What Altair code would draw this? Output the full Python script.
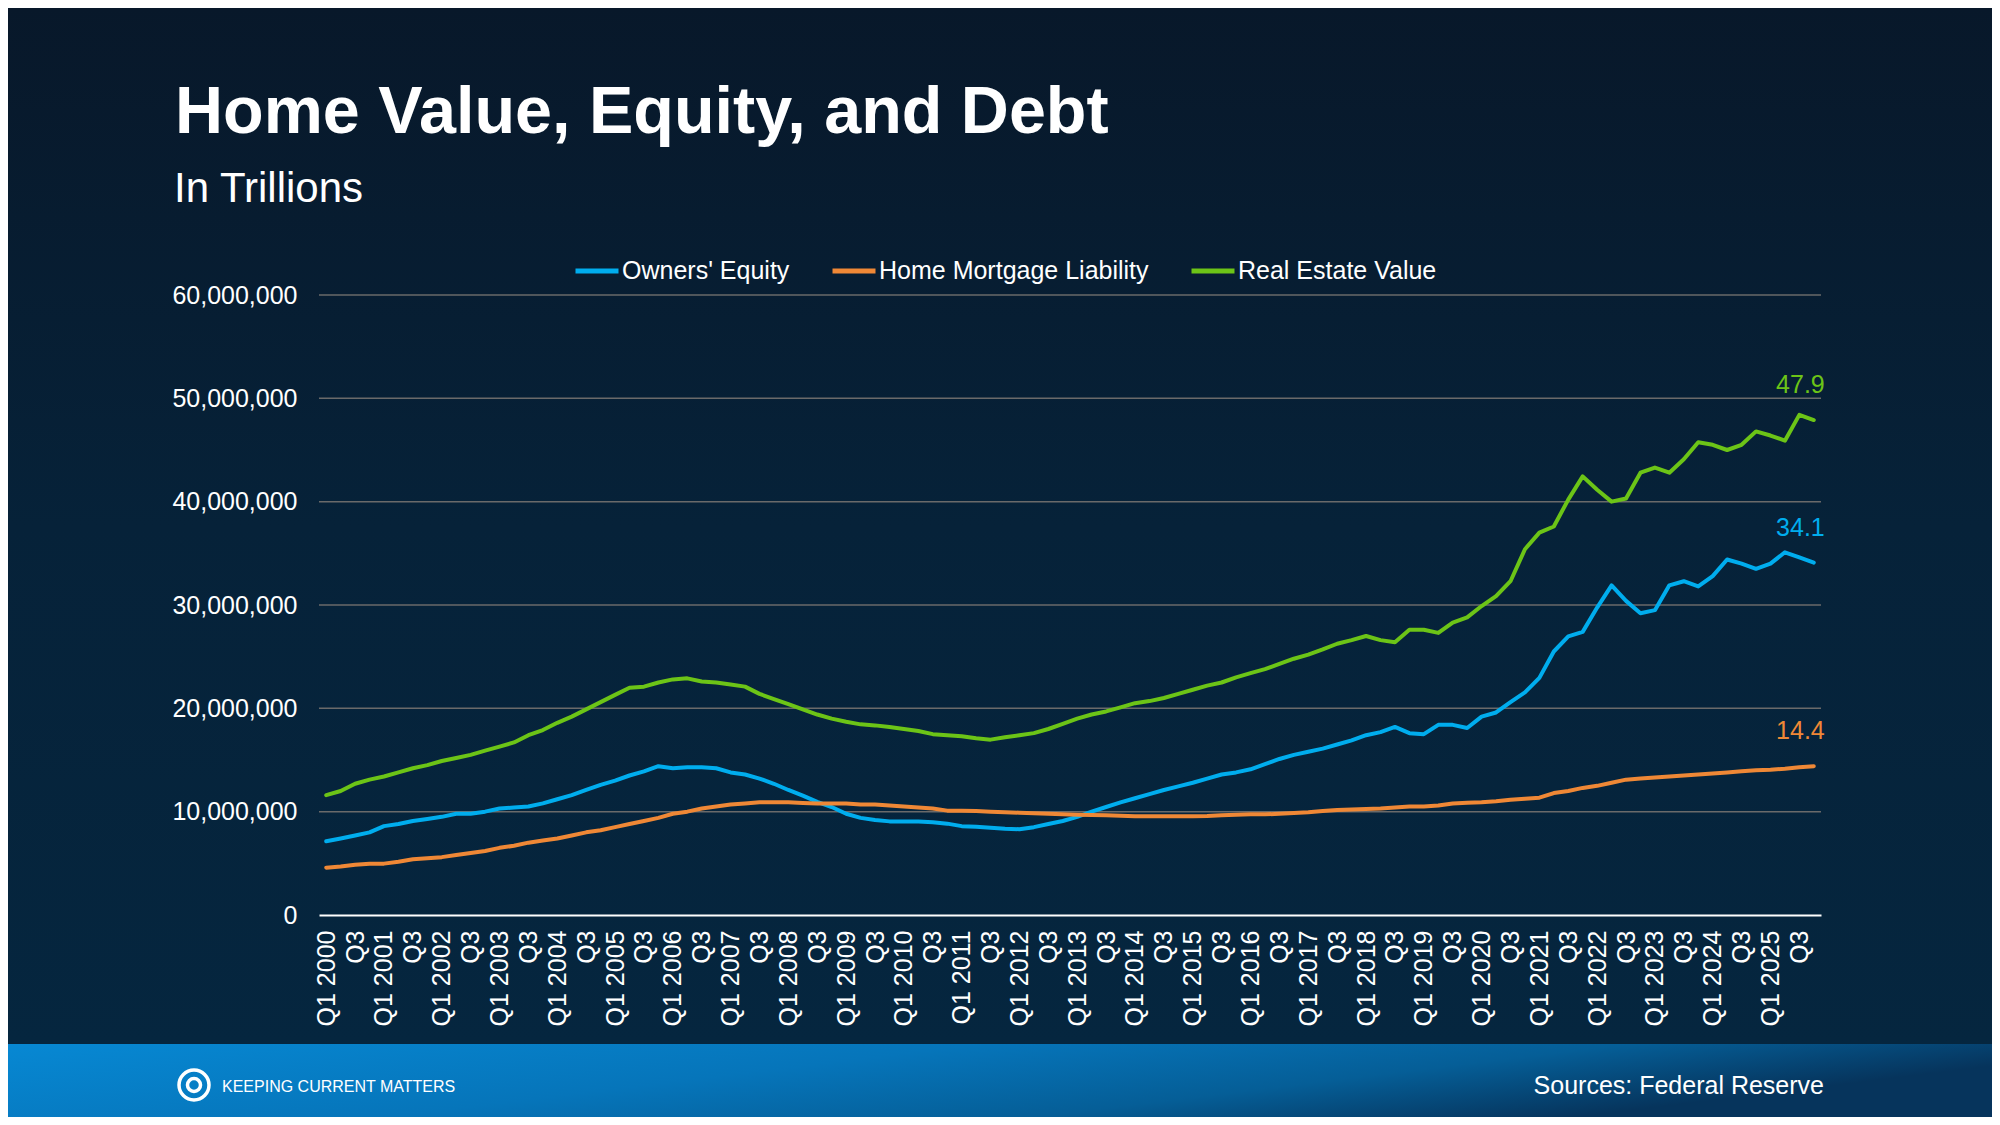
import altair as alt
import pandas as pd

# quarterly categories, Q1 2000 .. Q4 2025
years = list(range(2000, 2026))
quarters = [f"Q{q} {y}" for y in years for q in range(1, 5)]

# values, in trillions
owners_equity = [
    7.13, 7.4, 7.7, 8.0, 8.6, 8.8, 9.1, 9.3, 9.5, 9.8, 9.8, 10.0, 10.3, 10.4, 10.5, 10.8,
    11.2, 11.6, 12.1, 12.6, 13.0, 13.5, 13.9, 14.4, 14.2, 14.3, 14.3, 14.2, 13.8, 13.6, 13.2, 12.7,
    12.1, 11.55, 10.95, 10.45, 9.8, 9.4, 9.2, 9.06, 9.06, 9.06, 8.97, 8.84, 8.6, 8.55, 8.45, 8.35,
    8.3, 8.5, 8.8, 9.1, 9.5, 10.0, 10.45, 10.9, 11.3, 11.7, 12.1, 12.45, 12.8, 13.2, 13.6, 13.8,
    14.1, 14.6, 15.1, 15.5, 15.8, 16.1, 16.5, 16.9, 17.4, 17.7, 18.2, 17.6, 17.5, 18.4, 18.4, 18.1,
    19.2, 19.6, 20.6, 21.55, 22.95, 25.5, 26.96, 27.4, 29.75, 31.9, 30.4, 29.2, 29.5, 31.9, 32.3, 31.8,
    32.8, 34.4, 34.0, 33.5, 34.0, 35.1, 34.6, 34.1,
]
mortgage_liability = [
    4.58, 4.7, 4.87, 4.97, 4.97, 5.16, 5.4, 5.5, 5.6, 5.8, 6.0, 6.2, 6.5, 6.7, 7.0, 7.2,
    7.4, 7.7, 8.0, 8.2, 8.5, 8.8, 9.1, 9.4, 9.8, 10.0, 10.3, 10.5, 10.7, 10.8, 10.9, 10.9,
    10.9, 10.85, 10.8, 10.8, 10.8, 10.7, 10.7, 10.6, 10.5, 10.4, 10.3, 10.1, 10.1, 10.06, 10.0, 9.94,
    9.9, 9.84, 9.8, 9.74, 9.7, 9.68, 9.65, 9.6, 9.55, 9.55, 9.55, 9.55, 9.55, 9.58, 9.65, 9.7,
    9.74, 9.74, 9.8, 9.86, 9.94, 10.06, 10.16, 10.2, 10.26, 10.3, 10.4, 10.5, 10.5, 10.6, 10.8, 10.87,
    10.9, 11.0, 11.16, 11.26, 11.35, 11.8, 12.0, 12.3, 12.5, 12.8, 13.1, 13.2, 13.3, 13.4, 13.5, 13.6,
    13.7, 13.8, 13.9, 14.0, 14.06, 14.16, 14.3, 14.4,
]
real_estate_value = [
    11.6, 12.0, 12.7, 13.1, 13.4, 13.8, 14.2, 14.5, 14.9, 15.2, 15.5, 15.9, 16.3, 16.7, 17.4, 17.9,
    18.6, 19.2, 19.9, 20.6, 21.3, 22.0, 22.1, 22.5, 22.8, 22.9, 22.6, 22.5, 22.3, 22.1, 21.4, 20.9,
    20.4, 19.9, 19.4, 19.0, 18.7, 18.45, 18.35, 18.2, 18.0, 17.8, 17.5, 17.4, 17.3, 17.1, 16.97, 17.2,
    17.4, 17.6, 18.0, 18.5, 19.0, 19.4, 19.7, 20.1, 20.5, 20.7, 21.0, 21.4, 21.8, 22.2, 22.5, 23.0,
    23.4, 23.8, 24.3, 24.8, 25.2, 25.7, 26.25, 26.6, 27.0, 26.6, 26.4, 27.6, 27.6, 27.3, 28.3, 28.8,
    29.9, 30.85, 32.3, 35.4, 37.0, 37.6, 40.2, 42.45, 41.15, 40.0, 40.3, 42.8, 43.3, 42.8, 44.1, 45.75,
    45.5, 45.0, 45.5, 46.8, 46.4, 45.9, 48.4, 47.9,
]

series_names = ["Owners' Equity", "Home Mortgage Liability", "Real Estate Value"]
series_colors = ["#00adee", "#ef8836", "#6cc417"]
y_ticks = [0, 10_000_000, 20_000_000, 30_000_000, 40_000_000, 50_000_000, 60_000_000]

rows = []
for name, vals in zip(series_names, [owners_equity, mortgage_liability, real_estate_value]):
    for q, v in zip(quarters, vals):
        rows.append({"quarter": q, "series": name, "value": v * 1_000_000})
df = pd.DataFrame(rows)

FONT = "Liberation Sans"
W, H = 1502, 620
# total svg 1984 x 1109 so the page (8px body margin) does not overflow the window
PAD = {"left": 311, "top": 287, "right": 171, "bottom": 202}
one = pd.DataFrame({"k": [0]})

color_scale = alt.Scale(domain=series_names, range=series_colors)
x_scale = alt.Scale(domain=quarters, type="point", padding=0.5)
y_scale = alt.Scale(domain=[0, 60_000_000], nice=False)

# axes sit above the background panel (zindex 1); grid is drawn as rules below the lines
x_axis = alt.Axis(
    values=quarters[::2],
    labelExpr="indexof(datum.label, 'Q3') == 0 ? 'Q3' : datum.label",
    labelAngle=270,
    labelAlign="right",
    labelBaseline="middle",
    labelPadding=15,
    labelFontSize=25,
    labelFont=FONT,
    labelColor="white",
    labelOverlap=False,
    ticks=False,
    tickSize=0,
    domainColor="white",
    domainWidth=2,
    grid=False,
    zindex=1,
)
y_axis = alt.Axis(
    values=y_ticks,
    labelExpr="format(datum.value, ',')",
    labelFontSize=25,
    labelFont=FONT,
    labelColor="white",
    labelPadding=22,
    ticks=False,
    tickSize=0,
    domain=False,
    grid=False,
    zindex=1,
)

# page background and footer band
background = alt.Chart(one).mark_rect(
    fill=alt.LinearGradient(
        gradient="linear", x1=0, x2=0, y1=0, y2=1,
        stops=[
            alt.GradientStop(offset=0, color="#08182a"),
            alt.GradientStop(offset=0.5, color="#062239"),
            alt.GradientStop(offset=1, color="#05263f"),
        ],
    )
).encode(x=alt.value(-311), x2=alt.value(1673), y=alt.value(-287), y2=alt.value(749))

footer = alt.Chart(one).mark_rect(
    fill=alt.LinearGradient(
        gradient="linear", x1=0, x2=1, y1=0, y2=0.3,
        stops=[
            alt.GradientStop(offset=0, color="#0788d3"),
            alt.GradientStop(offset=0.45, color="#0675ba"),
            alt.GradientStop(offset=0.75, color="#055e97"),
            alt.GradientStop(offset=1, color="#06345c"),
        ],
    )
).encode(x=alt.value(-311), x2=alt.value(1673), y=alt.value(749), y2=alt.value(822))

title = alt.Chart(one).mark_text(
    text="Home Value, Equity, and Debt", font=FONT, fontSize=66.5, fontWeight="bold",
    color="white", align="left", baseline="alphabetic",
).encode(x=alt.value(-144), y=alt.value(-162))

subtitle = alt.Chart(one).mark_text(
    text="In Trillions", font=FONT, fontSize=42, color="white",
    align="left", baseline="alphabetic",
).encode(x=alt.value(-145), y=alt.value(-93))

logo_ring = alt.Chart(one).mark_point(
    shape="circle", size=900, stroke="white", strokeWidth=3.5, filled=False, opacity=1
).encode(x=alt.value(-125), y=alt.value(790))
logo_core = alt.Chart(one).mark_point(
    shape="circle", size=170, stroke="white", strokeWidth=3.5, filled=False, opacity=1
).encode(x=alt.value(-125), y=alt.value(790))
logo_text = alt.Chart(one).mark_text(
    text="KEEPING CURRENT MATTERS", font=FONT, fontSize=16, color="white",
    align="left", baseline="alphabetic",
).encode(x=alt.value(-97), y=alt.value(797))

source = alt.Chart(one).mark_text(
    text="Sources: Federal Reserve", font=FONT, fontSize=25, color="white",
    align="right", baseline="alphabetic",
).encode(x=alt.value(1505), y=alt.value(799))

grid = alt.Chart(pd.DataFrame({"tick": y_ticks[1:]})).mark_rule(
    color="#6a6a6a", strokeWidth=1.5
).encode(y=alt.Y("tick:Q", scale=y_scale, title=None, axis=y_axis))

lines = alt.Chart(df).mark_line(strokeWidth=4, strokeJoin="round", strokeCap="round").encode(
    x=alt.X("quarter:O", scale=x_scale, title=None, axis=x_axis),
    y=alt.Y("value:Q", scale=y_scale, title=None, axis=y_axis),
    color=alt.Color(
        "series:N",
        scale=color_scale,
        legend=alt.Legend(
            title=None,
            orient="none",
            legendX=254,
            legendY=-48,
            direction="horizontal",
            symbolType="stroke",
            symbolSize=1849,
            symbolStrokeWidth=5,
            labelFont=FONT,
            labelFontSize=25,
            labelColor="white",
            labelOffset=1,
            labelLimit=400,
            columnPadding=32,
        ),
    ),
)

end_labels = alt.Chart(df).transform_filter(
    alt.datum.quarter == quarters[-1]
).transform_calculate(
    lbl="format(datum.value / 1000000, '.1f')"
).mark_text(
    align="right", baseline="alphabetic", dx=11, dy=-27, font=FONT, fontSize=25
).encode(
    x=alt.X("quarter:O", scale=x_scale, title=None, axis=x_axis),
    y=alt.Y("value:Q", scale=y_scale, title=None, axis=y_axis),
    text="lbl:N",
    color=alt.Color("series:N", scale=color_scale, legend=None),
)

chart = alt.layer(
    background, footer, title, subtitle, grid, lines, end_labels,
    logo_ring, logo_core, logo_text, source,
).properties(
    width=W,
    height=H,
    padding=PAD,
    autosize=alt.AutoSizeParams(type="none"),
    background="#071c30",
).configure_view(strokeWidth=0)

chart.save("out.html", embed_options={"renderer": "svg", "actions": False})
